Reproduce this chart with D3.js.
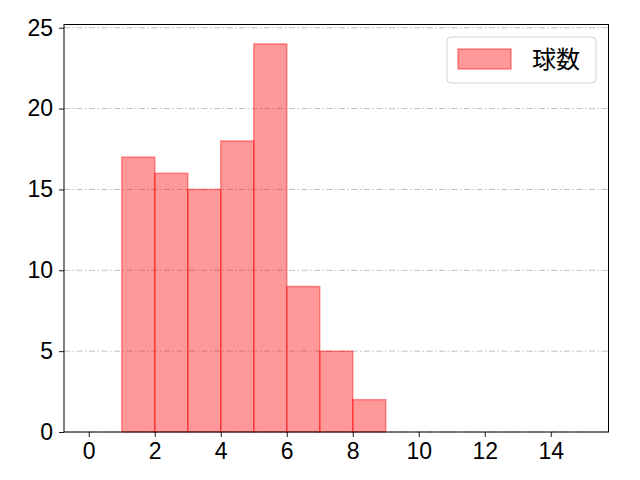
<!DOCTYPE html>
<html><head><meta charset="utf-8">
<script src="https://cdn.jsdelivr.net/npm/d3@7"></script>
<style>body{margin:0;background:#fff}svg{display:block}text{font-family:"Liberation Sans","Noto Sans CJK JP",sans-serif}</style>
</head><body>
<script>
const binStarts = [0,1,2,3,4,5,6,7,8,9,10,11,12,13,14];
const counts    = [0,17,16,15,18,24,9,5,2,0,0,0,0,0,0];
const xTicks = [0,2,4,6,8,10,12,14];
const yTicks = [0,5,10,15,20,25];
const seriesName = "球数";

const W=640,H=480;
const m={l:64,r:608.5,t:24.5,b:432};
const svg=d3.select("body").append("svg").attr("width",W).attr("height",H);
const x=d3.scaleLinear().domain([-0.75,15.75]).range([m.l,m.r]);
const y=d3.scaleLinear().domain([0,25.2]).range([m.b,m.t]);

// grid
svg.append("g").selectAll("line").data(yTicks).join("line")
  .attr("x1",m.l).attr("x2",m.r).attr("y1",d=>y(d)).attr("y2",d=>y(d))
  .attr("stroke","#b0b0b0").attr("stroke-width",0.8).attr("stroke-dasharray","6,2.5,1.5,2.5");

// bars
svg.append("g").selectAll("rect").data(binStarts.map((s,i)=>({s,c:counts[i]}))).join("rect")
  .attr("x",d=>x(d.s)).attr("width",d=>x(d.s+1)-x(d.s))
  .attr("y",d=>y(d.c)).attr("height",d=>y(0)-y(d.c))
  .attr("fill","rgba(255,0,0,0.4)").attr("stroke","rgba(255,0,0,0.4)").attr("stroke-width",1.5);

// axes
const fs=23;
const ff='"Liberation Sans","Noto Sans CJK JP",sans-serif';
const xa=svg.append("g").attr("transform",`translate(0,${m.b})`)
  .call(d3.axisBottom(x).tickValues(xTicks).tickSize(5).tickPadding(6).tickFormat(d3.format("d")));
const ya=svg.append("g").attr("transform",`translate(${m.l},0)`)
  .call(d3.axisLeft(y).tickValues(yTicks).tickSize(5).tickPadding(6).tickFormat(d3.format("d")));
[xa,ya].forEach(a=>{a.select(".domain").remove();a.selectAll("line").attr("stroke","#000").attr("stroke-width",0.9);
  a.selectAll("text").attr("font-size",fs).attr("fill","#000").style("font-family",ff);});

svg.append("rect").attr("x",m.l).attr("y",m.t).attr("width",m.r-m.l).attr("height",m.b-m.t)
  .attr("fill","none").attr("stroke","#000").attr("stroke-width",1);

// legend
const lg=svg.append("g");
lg.append("rect").attr("x",447).attr("y",37).attr("width",149).attr("height",46).attr("rx",4)
  .attr("fill","rgba(255,255,255,0.8)").attr("stroke","#d5d5d5").attr("stroke-width",1);
lg.append("rect").attr("x",458).attr("y",49).attr("width",53).attr("height",20)
  .attr("fill","rgba(255,0,0,0.4)").attr("stroke","rgba(255,0,0,0.4)").attr("stroke-width",1.5);
lg.append("text").attr("x",532).attr("y",68).attr("font-size",24).attr("fill","#000")
  .style("font-family",'"Noto Sans CJK JP",sans-serif').text(seriesName);
</script>
</body></html>
